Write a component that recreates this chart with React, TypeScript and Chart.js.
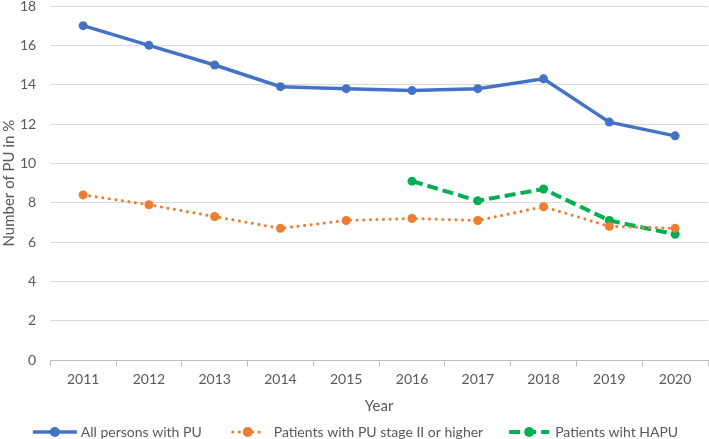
import React, { useEffect, useRef } from "react";
import { Chart, registerables } from "chart.js";

Chart.register(...registerables);

const years = ["2011", "2012", "2013", "2014", "2015", "2016", "2017", "2018", "2019", "2020"];
const allPersons = [17, 16, 15, 13.9, 13.8, 13.7, 13.8, 14.3, 12.1, 11.4];
const stageTwo = [8.4, 7.9, 7.3, 6.7, 7.1, 7.2, 7.1, 7.8, 6.8, 6.7];
const hapu = [null, null, null, null, null, 9.1, 8.1, 8.7, 7.1, 6.4];

const BLUE = "#4472C4";
const ORANGE = "#ED7D31";
const GREEN = "#00B050";
const FONT = "Lato, 'Open Sans', sans-serif";
const TEXT = "#595959";

const ORANGE_DASH = [0.1, 6.5];
const GREEN_DASH = [11, 5];

// Legend drawn below the "Year" title, reading the datasets of the chart.
const bottomLegend = {
  id: "bottomLegend",
  afterDraw(chart: any) {
    const ctx = chart.ctx as CanvasRenderingContext2D;
    const ds = chart.data.datasets;
    ctx.save();
    ctx.font = `14px ${FONT}`;
    const half = 22;
    const textGap = 26;
    const itemGap = 46;
    const widths = ds.map((d: any) => ctx.measureText(d.label).width);
    let total = half;
    widths.forEach((w: number, i: number) => {
      total += textGap + w + (i < widths.length - 1 ? itemGap : 0);
    });
    let m = chart.width / 2 - total / 2 + half + 1;
    const y = chart.height - 7;
    ds.forEach((d: any, i: number) => {
      const color = d.borderColor;
      ctx.strokeStyle = color;
      ctx.fillStyle = color;
      ctx.lineWidth = d.borderWidth;
      ctx.setLineDash(d.borderDash || []);
      ctx.lineCap = d.borderCapStyle || "butt";
      const span = i === 1 ? 15 : i === 2 ? 20 : half;
      ctx.beginPath();
      ctx.moveTo(m - span, y);
      ctx.lineTo(m + span, y);
      ctx.stroke();
      ctx.setLineDash([]);
      ctx.beginPath();
      ctx.arc(m, y, 5, 0, Math.PI * 2);
      ctx.fill();
      ctx.fillStyle = TEXT;
      ctx.textBaseline = "middle";
      ctx.textAlign = "left";
      ctx.fillText(d.label, m + textGap, y);
      m += textGap + widths[i] + itemGap;
    });
    ctx.restore();
  },
};

export default function App() {
  const ref = useRef<HTMLCanvasElement>(null);
  useEffect(() => {
    document.body.style.margin = "0";
    const chart = new Chart(ref.current!, {
      type: "line",
      data: {
        labels: years,
        datasets: [
          {
            label: "All persons with PU",
            data: allPersons,
            borderColor: BLUE,
            backgroundColor: BLUE,
            borderWidth: 3.5,
            pointRadius: 4.5,
            pointBorderWidth: 0,
          },
          {
            label: "Patients with PU stage II or higher",
            data: stageTwo,
            borderColor: ORANGE,
            backgroundColor: ORANGE,
            borderWidth: 3,
            borderDash: ORANGE_DASH,
            borderCapStyle: "round",
            pointRadius: 4.5,
            pointBorderWidth: 0,
          },
          {
            label: "Patients wiht HAPU",
            data: hapu,
            borderColor: GREEN,
            backgroundColor: GREEN,
            borderWidth: 4,
            borderDash: GREEN_DASH,
            pointRadius: 4.5,
            pointBorderWidth: 0,
            spanGaps: false,
          },
        ],
      },
      plugins: [bottomLegend],
      options: {
        animation: false,
        responsive: false,
        maintainAspectRatio: false,
        layout: { autoPadding: false, padding: { top: 6, right: 1, left: 0, bottom: 20 } },
        elements: { point: { pointStyle: "circle" } },
        plugins: {
          tooltip: { enabled: false },
          legend: { display: false },
        },
        scales: {
          x: {
            offset: true,
            afterFit: (s: any) => {
              s.paddingLeft = 0;
              s.paddingRight = 0;
            },
            grid: {
              display: true,
              offset: true,
              drawOnChartArea: false,
              drawTicks: true,
              tickLength: 6,
              color: "#bfbfbf",
            },
            border: { display: true, color: "#bfbfbf" },
            ticks: { color: TEXT, font: { family: FONT, size: 14 }, padding: 5 },
            title: {
              display: true,
              text: "Year",
              color: TEXT,
              font: { family: FONT, size: 15 },
              padding: { top: 4, bottom: 4 },
            },
          },
          y: {
            min: 0,
            max: 18,
            afterFit: (s: any) => {
              s.paddingTop = 0;
              s.width = s.width - 12;
            },
            ticks: { stepSize: 2, color: TEXT, font: { family: FONT, size: 14 }, padding: 14 },
            grid: { color: "#d9d9d9", drawTicks: false, lineWidth: 1 },
            border: { display: false },
            title: {
              display: true,
              text: "Number of PU in %",
              color: TEXT,
              font: { family: FONT, size: 15 },
              padding: { top: 0, bottom: 0 },
            },
          },
        },
      },
    });
    return () => chart.destroy();
  }, []);
  return (
    <div style={{ position: "absolute", left: 0, top: 0, width: 709, height: 439, overflow: "hidden" }}>
      <canvas ref={ref} width={709} height={439} style={{ width: 709, height: 439 }} />
    </div>
  );
}
